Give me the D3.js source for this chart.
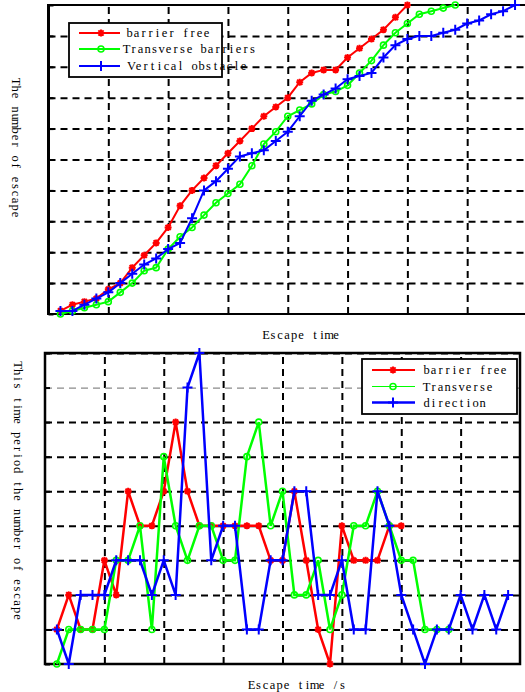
<!DOCTYPE html>
<html>
<head>
<meta charset="utf-8">
<script src="https://cdn.jsdelivr.net/npm/d3@7"></script>
<style>
html, body { margin: 0; padding: 0; background: #fff; }
svg { display: block; }
text { font-family: "Liberation Serif", "DejaVu Serif", serif; font-size: 12.5px; fill: #000; }
</style>
</head>
<body>
<svg id="chart" width="525" height="692"></svg>
<script>
// time of each sample, seconds
var timeSteps = [0.2,0.4,0.6,0.8,1,1.2,1.4,1.6,1.8,2,2.2,2.4,2.6,2.8,3,3.2,3.4,3.6,3.8,4,4.2,4.4,4.6,4.8,5,5.2,5.4,5.6,5.8,6,6.2,6.4,6.6,6.8,7,7.2,7.4,7.6,7.8];

// people leaving in each time period (lower chart)
var freeCount  = [1,2,1,1,3,2,5,4,4,5,7,5,4,4,4,4,4,4,3,3,5,3,1,0,4,3,3,3,4,4];
var transCount = [0,1,1,1,1,3,3,4,1,6,4,3,4,4,3,3,6,7,4,5,2,2,3,1,2,4,4,5,4,3,3,1,1,1];
var vertCount  = [1,0,2,2,2,3,3,3,2,3,2,8,9,3,4,4,1,1,3,3,5,5,2,2,3,1,1,5,4,2,1,0,1,1,2,1,2,1,2];

// people escaped so far (upper chart)
var freeTotal  = [1,3,4,5,8,10,15,19,23,28,35,40,44,48,52,56,60,64,67,70,75,78,79,79,83,86,89,92,96,100];
var transTotal = [0,1,2,3,4,7,10,14,15,21,25,28,32,36,39,42,48,55,59,64,66,68,71,72,74,78,82,87,91,94,97,98,99,100];
var vertTotal  = [1,1,3,5,7,10,13,16,18,21,23,31,40,43,47,51,52,53,56,59,64,69,71,73,76,77,78,83,87,89,90,90,91,92,94,95,97,98,100];

var xTicks = [0,1,2,3,4,5,6,7,8];
var totalTicks = [0,10,20,30,40,50,60,70,80,90,100];
var countTicks = [0,1,2,3,4,5,6,7,8,9];

var topNames = ["barrier free", "Transverse barriers", "Vertical obstacle"];
var bottomNames = ["barrier free", "Transverse", "direction"];

var svg = d3.select("#chart");

var tx = d3.scaleLinear().domain([0, 8]).range([48.5, 527]);
var ty = d3.scaleLinear().domain([0, 100]).range([314, 5]);
var bx = d3.scaleLinear().domain([0, 8]).range([45, 520]);
var by = d3.scaleLinear().domain([0, 9]).range([664, 353]);

var CELL = 7; // every glyph sits in a fixed 7px cell, like the original font

var markers = {
  star: "M-3.5,0H3.5M0,-3.5V3.5M-2.6,-2.6L2.6,2.6M-2.6,2.6L2.6,-2.6",
  circle: "M3,0A3,3 0 1,1 -3,0A3,3 0 1,1 3,0Z",
  plus: "M-5,0H5M0,-5V5"
};

// text laid out glyph by glyph in fixed cells; x is the left edge (or the centre)
function monoText(g, x, y, str, centred, transform) {
  var left = centred ? x - str.length * CELL / 2 : x;
  var xs = str.split("").map(function(c, i) { return left + CELL / 2 + i * CELL; });
  var t = g.append("text")
    .attr("x", xs.join(" "))
    .attr("y", y)
    .attr("dy", "0.35em")
    .attr("text-anchor", "middle")
    .text(str);
  if (transform) t.attr("transform", transform);
  return t;
}

// dashed grid from the axis generators
function grid(g, x, y, xt, yt) {
  var h = y.range()[0] - y.range()[1];
  var w = x.range()[1] - x.range()[0];
  g.append("g")
    .attr("class", "xgrid")
    .attr("transform", "translate(0," + y.range()[0] + ")")
    .call(d3.axisBottom(x).tickValues(xt).tickSize(-h).tickFormat(""))
    .call(function(a) { a.select(".domain").remove(); });
  g.append("g")
    .attr("class", "ygrid")
    .attr("transform", "translate(" + x.range()[0] + ",0)")
    .call(d3.axisLeft(y).tickValues(yt).tickSize(-w).tickFormat(""))
    .call(function(a) { a.select(".domain").remove(); });
  g.selectAll(".tick line")
    .attr("stroke", "#000")
    .attr("stroke-width", 2)
    .attr("stroke-dasharray", "7,5");
}

function series(g, x, y, vals, color, marker, width) {
  var pts = vals.map(function(v, i) { return [x(timeSteps[i]), y(v)]; });
  g.append("path")
    .datum(pts)
    .attr("d", d3.line())
    .attr("fill", "none")
    .attr("stroke", color)
    .attr("stroke-width", width)
    .attr("stroke-linejoin", "miter");
  g.selectAll(null)
    .data(pts)
    .enter()
    .append("path")
    .attr("transform", function(d) { return "translate(" + d[0] + "," + d[1] + ")"; })
    .attr("d", markers[marker])
    .attr("fill", "none")
    .attr("stroke", color)
    .attr("stroke-width", marker == "circle" ? 1.6 : 2);
}

function legend(g, x0, y0, x1, y1, rows) {
  g.append("rect")
    .attr("x", x0).attr("y", y0)
    .attr("width", x1 - x0).attr("height", y1 - y0)
    .attr("fill", "#fff")
    .attr("stroke", "#000")
    .attr("stroke-width", 1.8);
  rows.forEach(function(r) {
    g.append("line")
      .attr("x1", r.lx0).attr("x2", r.lx1)
      .attr("y1", r.y).attr("y2", r.y)
      .attr("stroke", r.color)
      .attr("stroke-width", r.width);
    g.append("path")
      .attr("transform", "translate(" + r.mx + "," + r.y + ")")
      .attr("d", markers[r.marker])
      .attr("fill", "none")
      .attr("stroke", r.color)
      .attr("stroke-width", r.marker == "circle" ? 1.6 : 2);
    monoText(g, r.tx, r.y, r.name, false);
  });
}

// ---- upper chart: cumulative escapes
var upper = svg.append("g");
grid(upper, tx, ty, xTicks.slice(1), totalTicks.slice(1, 10));
upper.append("g")
  .attr("transform", "translate(" + tx(0) + ",0)")
  .call(d3.axisLeft(ty).tickValues(totalTicks).tickSize(-5).tickFormat(""))
  .call(function(a) { a.select(".domain").remove(); })
  .selectAll("line").attr("stroke", "#000").attr("stroke-width", 2);
upper.append("line").attr("x1", tx(0)).attr("x2", 525).attr("y1", ty(100)).attr("y2", ty(100))
  .attr("stroke", "#000").attr("stroke-width", 2);
upper.append("line").attr("x1", tx(0)).attr("x2", 525).attr("y1", ty(0)).attr("y2", ty(0))
  .attr("stroke", "#000").attr("stroke-width", 2);
upper.append("line").attr("x1", tx(0)).attr("x2", tx(0)).attr("y1", ty(100) - 1).attr("y2", ty(0) + 1)
  .attr("stroke", "#000").attr("stroke-width", 3);

series(upper, tx, ty, freeTotal, "#ff0000", "star", 2);
series(upper, tx, ty, transTotal, "#00ff00", "circle", 2);
series(upper, tx, ty, vertTotal, "#0000ff", "plus", 2);

legend(upper, 69, 23, 222, 77, [
  { name: topNames[0], color: "#ff0000", marker: "star", width: 2, y: 33, lx0: 79, lx1: 120, mx: 101, tx: 126 },
  { name: topNames[1], color: "#00ff00", marker: "circle", width: 2, y: 49, lx0: 79, lx1: 120, mx: 101, tx: 123 },
  { name: topNames[2], color: "#0000ff", marker: "plus", width: 2, y: 66, lx0: 79, lx1: 120, mx: 101, tx: 128 }
]);

monoText(upper, 0, 0, "The number of escape", true, "translate(16,148) rotate(90)");
monoText(upper, 301, 335, "Escape time", true);

// ---- lower chart: escapes per time period
var lower = svg.append("g");
grid(lower, bx, by, xTicks.slice(1, 8), countTicks.slice(1));
lower.selectAll(".ygrid .tick")
  .filter(function(d) { return d == 8; })
  .select("line")
  .attr("stroke", "#8a8a8a")
  .attr("stroke-width", 1.2);
lower.append("g")
  .attr("transform", "translate(" + bx(0) + ",0)")
  .call(d3.axisLeft(by).tickValues(countTicks).tickSize(-5).tickFormat(""))
  .call(function(a) { a.select(".domain").remove(); })
  .selectAll("line").attr("stroke", "#000").attr("stroke-width", 2);
lower.append("rect")
  .attr("x", bx(0)).attr("y", by(9))
  .attr("width", bx(8) - bx(0)).attr("height", by(0) - by(9))
  .attr("fill", "none")
  .attr("stroke", "#000")
  .attr("stroke-width", 2.5);

series(lower, bx, by, freeCount, "#ff0000", "star", 2.5);
series(lower, bx, by, transCount, "#00ff00", "circle", 2.5);
series(lower, bx, by, vertCount, "#0000ff", "plus", 2.5);

legend(lower, 362, 359, 517, 414, [
  { name: bottomNames[0], color: "#ff0000", marker: "star", width: 2, y: 370, lx0: 372, lx1: 415, mx: 393, tx: 423 },
  { name: bottomNames[1], color: "#00ff00", marker: "circle", width: 1.2, y: 386.5, lx0: 372, lx1: 415, mx: 393, tx: 423 },
  { name: bottomNames[2], color: "#0000ff", marker: "plus", width: 2.5, y: 402.5, lx0: 372, lx1: 415, mx: 393, tx: 423 }
]);

monoText(lower, 0, 0, "This time period the number of escape", true, "translate(18,491) rotate(90)");
monoText(lower, 297, 685, "Escape time /s", true);
</script>
</body>
</html>
